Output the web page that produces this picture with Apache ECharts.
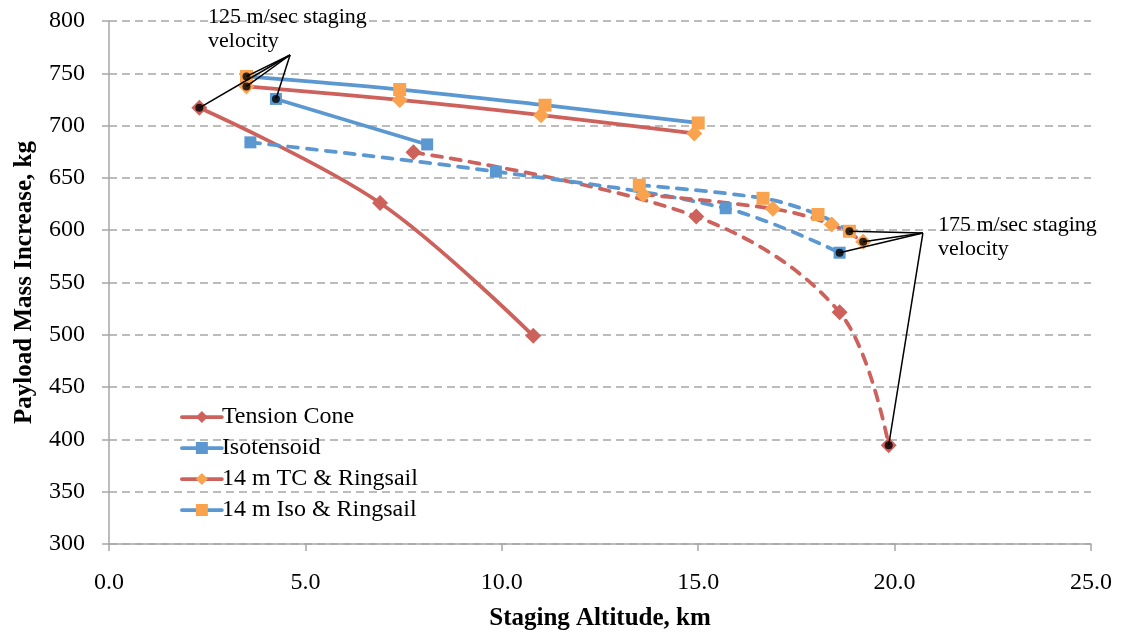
<!DOCTYPE html>
<html>
<head>
<meta charset="utf-8">
<script src="https://cdn.jsdelivr.net/npm/echarts@6/dist/echarts.min.js"></script>
<style>
  html, body { margin: 0; padding: 0; background: #fff; }
  #chart { width: 1128px; height: 637px; }
</style>
</head>
<body>
<div id="chart"></div>
<script>
// Staging altitude (km) and payload mass increase (kg), per decelerator and staging velocity
const tc125Alt = [2.3, 6.9, 10.8];
const tc125Mass = [717, 626, 499];
const iso125Alt = [4.25, 8.1];
const iso125Mass = [725.5, 682];
const tcRing125Alt = [3.5, 7.4, 11.0, 14.9];
const tcRing125Mass = [737.5, 724.5, 710, 692.5];
const isoRing125Alt = [3.5, 7.4, 11.1, 15.0];
const isoRing125Mass = [747, 734.5, 719.5, 702.5];

const tc175Alt = [7.75, 14.95, 18.6, 19.85];
const tc175Mass = [674.5, 613, 521.5, 394.5];
const iso175Alt = [3.6, 9.85, 15.7, 18.6];
const iso175Mass = [684, 656, 621, 578.5];
const tcRing175Alt = [13.6, 16.9, 18.4, 19.2];
const tcRing175Mass = [634, 620.5, 605.5, 589];
const isoRing175Alt = [13.5, 16.65, 18.05, 18.85];
const isoRing175Mass = [643, 630.5, 615, 599];

const seriesNames = ['Tension Cone', 'Isotensoid', '14 m TC & Ringsail', '14 m Iso & Ringsail'];
const xTicks = [0, 5, 10, 15, 20, 25];
const yTicks = [300, 350, 400, 450, 500, 550, 600, 650, 700, 750, 800];

// Where the callout leaders meet, in axis units
const callout125 = [4.61, 767.5];
const callout175 = [20.72, 597.3];
const callout125Text = '125 m/sec staging\nvelocity';
const callout175Text = '175 m/sec staging\nvelocity';

const RED = '#CD625C';
const BLUE = '#5B98D2';
const ORANGE = '#F9A34F';
const FONT = '"Liberation Serif", "Times New Roman", serif';

const pairs = (xs, ys) => xs.map((x, i) => [x, ys[i]]);
const last = (xs, ys) => [xs[xs.length - 1], ys[ys.length - 1]];
const first = (xs, ys) => [xs[0], ys[0]];

function curve(name, xs, ys, lineColor, markColor, symbol, size, dashed) {
  return {
    name: name,
    type: 'line',
    data: pairs(xs, ys),
    smooth: 0.35,
    symbol: symbol,
    symbolSize: size,
    showAllSymbol: true,
    lineStyle: {
      color: lineColor,
      width: 3.75,
      type: dashed ? [10, 9] : 'solid',
      cap: 'round'
    },
    itemStyle: { color: markColor, borderWidth: 0 },
    emphasis: { disabled: true },
    z: 3
  };
}

const leaders125 = [
  first(tc125Alt, tc125Mass),
  first(isoRing125Alt, isoRing125Mass),
  first(tcRing125Alt, tcRing125Mass),
  first(iso125Alt, iso125Mass)
];
const leaders175 = [
  last(isoRing175Alt, isoRing175Mass),
  last(tcRing175Alt, tcRing175Mass),
  last(iso175Alt, iso175Mass),
  last(tc175Alt, tc175Mass)
];

const chart = echarts.init(document.getElementById('chart'), null, { renderer: 'canvas' });

chart.setOption({
  animation: false,
  backgroundColor: '#ffffff',
  textStyle: { fontFamily: FONT },
  grid: { left: 109, right: 37, top: 21, bottom: 93, containLabel: false, outerBoundsMode: 'none' },
  xAxis: {
    type: 'value',
    min: xTicks[0],
    max: xTicks[xTicks.length - 1],
    interval: 5,
    name: 'Staging Altitude, km',
    nameLocation: 'middle',
    nameGap: 62,
    nameTextStyle: { fontFamily: FONT, fontSize: 25, fontWeight: 'bold', color: '#000' },
    axisLine: { show: true, lineStyle: { color: '#A6A6A6', width: 1.5 } },
    axisTick: { show: true, inside: false, length: 7, lineStyle: { color: '#A6A6A6', width: 1.5 } },
    axisLabel: {
      fontFamily: FONT, fontSize: 24, color: '#000', margin: 27,
      formatter: v => v.toFixed(1)
    },
    splitLine: { show: false }
  },
  yAxis: {
    type: 'value',
    min: yTicks[0],
    max: yTicks[yTicks.length - 1],
    interval: 50,
    name: 'Payload Mass Increase, kg',
    nameLocation: 'middle',
    nameGap: 72,
    nameRotate: 90,
    nameTextStyle: { fontFamily: FONT, fontSize: 25, fontWeight: 'bold', color: '#000' },
    axisLine: { show: true, lineStyle: { color: '#A6A6A6', width: 1.5 } },
    axisTick: { show: true, inside: false, length: 7, lineStyle: { color: '#A6A6A6', width: 1.5 } },
    axisLabel: { fontFamily: FONT, fontSize: 24, color: '#000', margin: 24 },
    splitLine: { show: true, lineStyle: { color: '#A6A6A6', width: 1.5, type: [8, 5] } }
  },
  legend: {
    data: seriesNames,
    orient: 'vertical',
    left: 175,
    top: 400,
    itemWidth: 40,
    itemHeight: 15,
    itemGap: 7,
    selectedMode: false,
    lineStyle: { width: 3.75, type: 'solid' },
    textStyle: { fontFamily: FONT, fontSize: 24, color: '#000', padding: [0, 0, 0, -5] }
  },
  graphic: [
    {
      type: 'text', left: 208, top: 5, z: 10,
      style: { text: callout125Text, font: '22px ' + FONT, fill: '#000', lineHeight: 24 }
    },
    {
      type: 'text', left: 938, top: 213, z: 10,
      style: { text: callout175Text, font: '22px ' + FONT, fill: '#000', lineHeight: 24 }
    }
  ],
  series: [
    // 125 m/sec staging velocity (solid, listed in the legend)
    curve(seriesNames[0], tc125Alt, tc125Mass, RED, RED, 'diamond', [16, 16], false),
    curve(seriesNames[1], iso125Alt, iso125Mass, BLUE, BLUE, 'rect', 12, false),
    curve(seriesNames[2], tcRing125Alt, tcRing125Mass, RED, ORANGE, 'diamond', [16, 16], false),
    curve(seriesNames[3], isoRing125Alt, isoRing125Mass, BLUE, ORANGE, 'rect', 13, false),
    // 175 m/sec staging velocity (dashed)
    curve(seriesNames[0] + ' 175', tc175Alt, tc175Mass, RED, RED, 'diamond', [16, 16], true),
    curve(seriesNames[1] + ' 175', iso175Alt, iso175Mass, BLUE, BLUE, 'rect', 12, true),
    curve(seriesNames[2] + ' 175', tcRing175Alt, tcRing175Mass, RED, ORANGE, 'diamond', [16, 16], true),
    curve(seriesNames[3] + ' 175', isoRing175Alt, isoRing175Mass, BLUE, ORANGE, 'rect', 13, true),
    // callout leader lines
    {
      type: 'lines',
      coordinateSystem: 'cartesian2d',
      polyline: false,
      silent: true,
      z: 8,
      lineStyle: { color: '#000', width: 1.5, opacity: 1, curveness: 0 },
      data: leaders125.map(p => ({ coords: [callout125, p] }))
        .concat(leaders175.map(p => ({ coords: [callout175, p] })))
    },
    // points the callouts refer to
    {
      type: 'scatter',
      silent: true,
      z: 9,
      symbol: 'circle',
      symbolSize: 8,
      itemStyle: { color: '#000' },
      data: leaders125.concat(leaders175)
    }
  ]
});
</script>
</body>
</html>
